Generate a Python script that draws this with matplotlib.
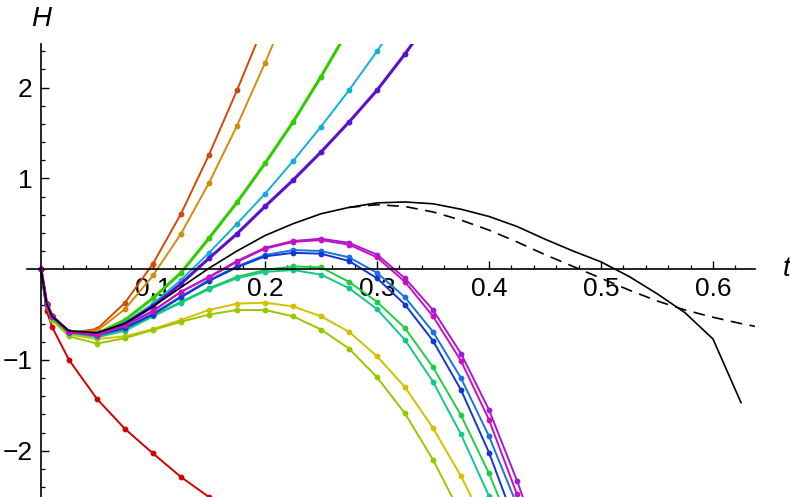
import matplotlib.pyplot as plt
import matplotlib.ticker as ticker
import numpy as np

# ── Data ──────────────────────────────────────────────────────────────────────
T = [0, 0.005, 0.01, 0.025, 0.05, 0.075, 0.1, 0.125, 0.15, 0.175, 0.2,
     0.225, 0.25, 0.275, 0.3, 0.325, 0.35, 0.375, 0.4, 0.425, 0.45]

h_red      = [0, -0.46, -0.64, -1.00, -1.43, -1.76, -2.03, -2.29, -2.51, -2.72]
h_orred    = [0, -0.42, -0.56, -0.70, -0.66, -0.37, 0.06, 0.61, 1.26, 1.97, 2.72]
h_orange   = [0, -0.40, -0.54, -0.70, -0.68, -0.44, -0.07, 0.39, 0.95, 1.58, 2.27, 3.0]
h_yellow   = [0, -0.40, -0.55, -0.72, -0.77, -0.74, -0.66, -0.56, -0.45, -0.38, -0.37,
              -0.41, -0.52, -0.69, -0.96, -1.30, -1.75, -2.28, -2.9]
h_ygreen   = [0, -0.40, -0.56, -0.74, -0.82, -0.76, -0.67, -0.58, -0.50, -0.45, -0.45,
              -0.52, -0.665, -0.875, -1.19, -1.59, -2.10, -2.7]
h_green    = [0, -0.39, -0.53, -0.69, -0.71, -0.56, -0.32, -0.04, 0.34, 0.735, 1.165,
              1.62, 2.12, 2.65]
h_green2   = [0, -0.39, -0.53, -0.70, -0.74, -0.67, -0.51, -0.36, -0.21, -0.085, -0.01,
              0.03, 0.02, -0.14, -0.36, -0.65, -1.08, -1.61, -2.25, -3.0]
h_teal     = [0, -0.39, -0.53, -0.70, -0.75, -0.68, -0.52, -0.37, -0.22, -0.10, -0.03,
              -0.01, -0.06, -0.21, -0.44, -0.78, -1.24, -1.82, -2.5, -3.2]
h_cyan     = [0, -0.38, -0.52, -0.69, -0.72, -0.59, -0.38, -0.12, 0.18, 0.50, 0.83,
              1.19, 1.57, 1.97, 2.40, 2.85]
h_blue1    = [0, -0.38, -0.52, -0.69, -0.73, -0.64, -0.49, -0.30, -0.12, 0.03, 0.155,
              0.21, 0.20, 0.13, -0.04, -0.31, -0.69, -1.20, -1.84, -2.6]
h_blue2    = [0, -0.38, -0.52, -0.69, -0.73, -0.65, -0.50, -0.31, -0.13, 0.02, 0.14,
              0.18, 0.17, 0.09, -0.10, -0.39, -0.79, -1.33, -2.02, -2.85]
h_purple   = [0, -0.38, -0.52, -0.69, -0.72, -0.60, -0.41, -0.16, 0.12, 0.39, 0.69,
              0.98, 1.29, 1.62, 1.97, 2.37, 2.8]
h_violet   = [0, -0.38, -0.52, -0.69, -0.73, -0.62, -0.46, -0.25, -0.085, 0.09, 0.235,
              0.31, 0.335, 0.29, 0.16, -0.10, -0.45, -0.93, -1.55, -2.33, -3.2]
h_magenta  = [0, -0.38, -0.52, -0.69, -0.73, -0.62, -0.46, -0.25, -0.09, 0.08, 0.225,
              0.30, 0.32, 0.27, 0.13, -0.14, -0.52, -1.01, -1.66, -2.48, -3.4]

# black reference curves
t_ref = [0, 0.005, 0.01, 0.025, 0.05, 0.075, 0.1, 0.125, 0.15, 0.175, 0.2, 0.225,
         0.25, 0.275, 0.3, 0.325, 0.35, 0.375, 0.4, 0.425, 0.45, 0.475, 0.5,
         0.525, 0.55, 0.575, 0.6, 0.625]
h_solid = [0, -0.38, -0.52, -0.68, -0.70, -0.60, -0.41, -0.20, 0.01, 0.20, 0.37, 0.50,
           0.61, 0.68, 0.73, 0.74, 0.72, 0.66, 0.58, 0.47, 0.33, 0.20, 0.08,
           -0.08, -0.27, -0.48, -0.77, -1.47]
t_dash = [0.275, 0.3, 0.325, 0.35, 0.375, 0.4, 0.425, 0.45, 0.475, 0.5, 0.525,
          0.55, 0.575, 0.6, 0.625, 0.6375]
h_dash = [0.68, 0.71, 0.69, 0.63, 0.54, 0.43, 0.30, 0.16, 0.03, -0.10, -0.23,
          -0.35, -0.45, -0.53, -0.60, -0.63]

series = [
    (h_red,     "#d40000", 1.4),
    (h_orred,   "#d24a06", 1.4),
    (h_orange,  "#d68a0c", 1.4),
    (h_yellow,  "#d4c000", 1.4),
    (h_ygreen,  "#96c800", 1.4),
    (h_green,   "#33cc00", 2.2),
    (h_green2,  "#22cc44", 1.4),
    (h_teal,    "#12c98a", 1.4),
    (h_cyan,    "#10b0d4", 1.4),
    (h_blue1,   "#1a72e0", 1.4),
    (h_blue2,   "#1238d2", 1.4),
    (h_purple,  "#5a10d0", 2.2),
    (h_violet,  "#a41ad8", 1.4),
    (h_magenta, "#c810c0", 1.4),
]

# ── Figure ────────────────────────────────────────────────────────────────────
plt.rcParams["font.family"] = ["Liberation Sans", "DejaVu Sans"]
fig = plt.figure(figsize=(7.9, 4.97), dpi=100)
ax = fig.add_axes([27 / 790, 0, 728 / 790, 453 / 497])
ax.set_xlim(-0.0125, 0.6375)
ax.set_ylim(-2.51, 2.48)

for vals, col, lw in series:
    ax.plot(T[:len(vals)], vals, color=col, lw=lw, marker="o", markersize=4.2,
            markeredgewidth=0, solid_joinstyle="round")

ax.plot(t_ref, h_solid, color="black", lw=1.2)
ax.plot(t_dash, h_dash, color="black", lw=1.2, dashes=(7, 4.5))

# Mathematica-style axes through the origin
for s in ["top", "right"]:
    ax.spines[s].set_visible(False)
ax.spines["left"].set_position(("data", 0))
ax.spines["bottom"].set_position(("data", 0))
ax.spines["left"].set_linewidth(1.2)
ax.spines["bottom"].set_linewidth(1.2)

ax.set_xticks([0.1, 0.2, 0.3, 0.4, 0.5, 0.6])
ax.set_xticklabels(["0.1", "0.2", "0.3", "0.4", "0.5", "0.6"])
ax.xaxis.set_minor_locator(ticker.FixedLocator(
    [v for v in np.arange(-0.0, 0.64, 0.02) if abs(round(v * 10) - v * 10) > 1e-6]))
ax.set_yticks([-2, -1, 1, 2])
ax.set_yticklabels(["\u22122", "\u22121", "1", "2"])
ax.yaxis.set_minor_locator(ticker.FixedLocator(
    [v for v in np.arange(-2.4, 2.5, 0.2) if abs(round(v) - v) > 1e-6]))

ax.tick_params(axis="both", which="major", direction="in", length=5.5, width=1.0,
               labelsize=19, pad=6)
ax.tick_params(axis="both", which="minor", direction="in", length=3, width=0.9)

ax.text(0.6375 + 0.028, 0, "t", fontsize=20, style="italic", ha="center",
        va="center", clip_on=False)
ax.text(0, 2.48 + 0.28, "H", fontsize=20, style="italic", ha="center",
        va="center", clip_on=False)

plt.savefig("out.png", dpi=100)
